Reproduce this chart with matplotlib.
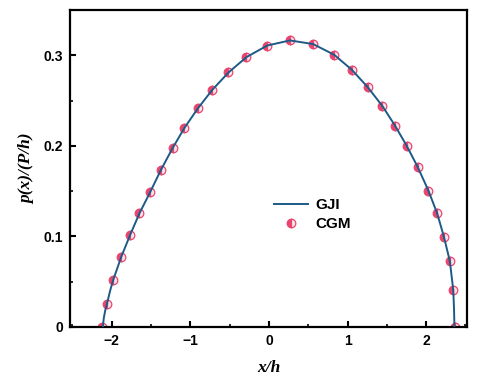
import matplotlib
matplotlib.use("Agg")
import matplotlib.pyplot as plt
from matplotlib.ticker import MultipleLocator

# CGM points
cgm_x = [-2.126, -2.06, -1.98, -1.88, -1.765, -1.646, -1.51, -1.373, -1.225, -1.076,
         -0.901, -0.719, -0.514, -0.285, -0.02, 0.268, 0.562, 0.830, 1.055, 1.256,
         1.442, 1.604, 1.753, 1.894, 2.029, 2.14, 2.226, 2.302, 2.345, 2.361]
cgm_y = [0.0, 0.0254, 0.052, 0.077, 0.1017, 0.1256, 0.149, 0.1735, 0.1975, 0.2196,
         0.2417, 0.2619, 0.281, 0.298, 0.3108, 0.3164, 0.3124, 0.3006, 0.284, 0.2649,
         0.2442, 0.2224, 0.2, 0.1765, 0.1506, 0.1256, 0.0998, 0.0726, 0.0409, 0.0]

# GJI curve
gji_x = [-2.112, -2.10, -2.08, -2.06, -2.02, -1.98, -1.88, -1.765, -1.646, -1.51, -1.373,
         -1.225, -1.076, -0.901, -0.719, -0.514, -0.285, -0.02, 0.268, 0.562, 0.830,
         1.055, 1.256, 1.442, 1.604, 1.753, 1.894, 2.029, 2.14, 2.226, 2.302, 2.345,
         2.355, 2.360]
gji_y = [0.0, 0.010, 0.019, 0.0254, 0.040, 0.052, 0.077, 0.1017, 0.1256, 0.149, 0.1735,
         0.1975, 0.2196, 0.2417, 0.2619, 0.281, 0.298, 0.3108, 0.3164, 0.3124, 0.3006,
         0.284, 0.2649, 0.2442, 0.2224, 0.2, 0.1765, 0.1506, 0.1256, 0.0998, 0.0726,
         0.0409, 0.020, 0.0]

xticks = [-2, -1, 0, 1, 2]
yticks = [0, 0.1, 0.2, 0.3]
ytick_labels = ["0", "0.1", "0.2", "0.3"]
xtick_labels = ["\u22122", "\u22121", "0", "1", "2"]

fig = plt.figure(figsize=(4.89, 3.83), dpi=100)
ax = fig.add_axes([70/489, 1 - 327/383, (467-70)/489, (327-10)/383])

ax.plot(gji_x, gji_y, color="#1d5a86", lw=1.4, label="GJI", zorder=3)
ax.plot(cgm_x, cgm_y, ls="none", marker="o", ms=6.2, fillstyle="left",
        markerfacecolor="#e8466f", markerfacecoloralt="#fbe3ea",
        markeredgecolor="#e8466f", markeredgewidth=0.9, label="CGM", zorder=2)

ax.set_xlim(-2.53, 2.52)
ax.set_ylim(0, 0.35)
ax.set_xticks(xticks)
ax.set_xticklabels(xtick_labels)
ax.set_yticks(yticks)
ax.set_yticklabels(ytick_labels)
ax.xaxis.set_minor_locator(MultipleLocator(0.5))
ax.yaxis.set_minor_locator(MultipleLocator(0.05))
ax.tick_params(which="major", direction="in", length=4, width=1.5, pad=5)
ax.tick_params(which="minor", direction="in", length=2, width=1.2)
ax.tick_params(which="both", top=False, right=False)
for lab in ax.get_xticklabels() + ax.get_yticklabels():
    lab.set_fontfamily("Liberation Sans")
    lab.set_fontweight("bold")
    lab.set_fontsize(10)
for s in ax.spines.values():
    s.set_linewidth(1.6)

ax.set_xlabel("x/h", family="Liberation Serif", style="italic", weight="bold",
              fontsize=12.5, labelpad=9)
ax.set_ylabel("p(x)/(P/h)", family="Liberation Serif", style="italic", weight="bold",
              fontsize=12.5, labelpad=6)

leg = ax.legend(loc="upper left", bbox_to_anchor=(0.48, 0.45), frameon=False,
                prop={"family": "Liberation Sans", "weight": "bold", "size": 11},
                handlelength=2.2, handletextpad=0.5, labelspacing=0.35)

fig.savefig("out.png", dpi=100)
